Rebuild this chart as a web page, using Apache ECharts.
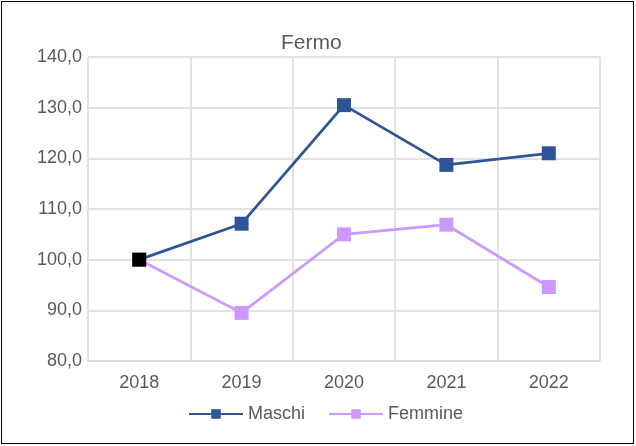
<!DOCTYPE html>
<html>
<head>
<meta charset="utf-8">
<script src="https://cdn.jsdelivr.net/npm/echarts@6/dist/echarts.min.js"></script>
<style>
  html, body { margin: 0; padding: 0; background: #fff; }
  #frame { position: absolute; left: 1px; top: 1px; width: 631px; height: 441px; border: 1.5px solid #000; box-sizing: content-box; }
  #chart { width: 631px; height: 441px; }
</style>
</head>
<body>
<div id="frame"><div id="chart"></div></div>
<script>
// Index values (2018 = 100) for the province of Fermo
const years = ['2018', '2019', '2020', '2021', '2022'];
const maschi = [100.0, 107.1, 130.5, 118.7, 121.0];
const femmine = [100.0, 89.5, 105.0, 106.9, 94.6];

const chart = echarts.init(document.getElementById('chart'));
const textColor = '#595959';
const gridColor = '#d9d9d9';
const font = 'Liberation Sans, Arial, sans-serif';

chart.setOption({
  animation: false,
  title: {
    text: 'Fermo',
    left: 274,
    top: 26,
    textStyle: { color: textColor, fontFamily: font, fontSize: 21, fontWeight: 'normal' }
  },
  legend: {
    bottom: 15,
    left: 181,
    itemWidth: 54,
    itemHeight: 12,
    itemGap: 23,
    textStyle: { color: textColor, fontFamily: font, fontSize: 18 },
    data: ['Maschi', 'Femmine']
  },
  grid: { left: 86, right: 33, top: 55, bottom: 82 },
  xAxis: {
    type: 'category',
    data: years,
    boundaryGap: true,
    axisLine: { lineStyle: { color: gridColor, width: 1.5 } },
    axisTick: { show: false },
    axisLabel: { color: textColor, fontFamily: font, fontSize: 18, margin: 13 },
    splitLine: { show: true, interval: 0, lineStyle: { color: gridColor, width: 1.5 } }
  },
  yAxis: {
    type: 'value',
    min: 80,
    max: 140,
    interval: 10,
    axisLine: { show: false },
    axisTick: { show: false },
    axisLabel: {
      color: textColor, fontFamily: font, fontSize: 18, margin: 6,
      formatter: v => v.toFixed(1).replace('.', ',')
    },
    splitLine: { lineStyle: { color: gridColor, width: 1.5 } }
  },
  series: [
    {
      name: 'Femmine',
      type: 'line',
      data: femmine,
      symbol: 'rect',
      symbolSize: 14,
      lineStyle: { color: '#cc99ff', width: 2.75 },
      itemStyle: { color: '#cc99ff' },
      z: 2
    },
    {
      name: 'Maschi',
      type: 'line',
      data: maschi.map((v, i) => i === 0 ? { value: v, itemStyle: { color: '#000000' } } : v),
      symbol: 'rect',
      symbolSize: 14,
      lineStyle: { color: '#2f5597', width: 2.75 },
      itemStyle: { color: '#2f5597' },
      z: 3
    }
  ]
});
</script>
</body>
</html>
